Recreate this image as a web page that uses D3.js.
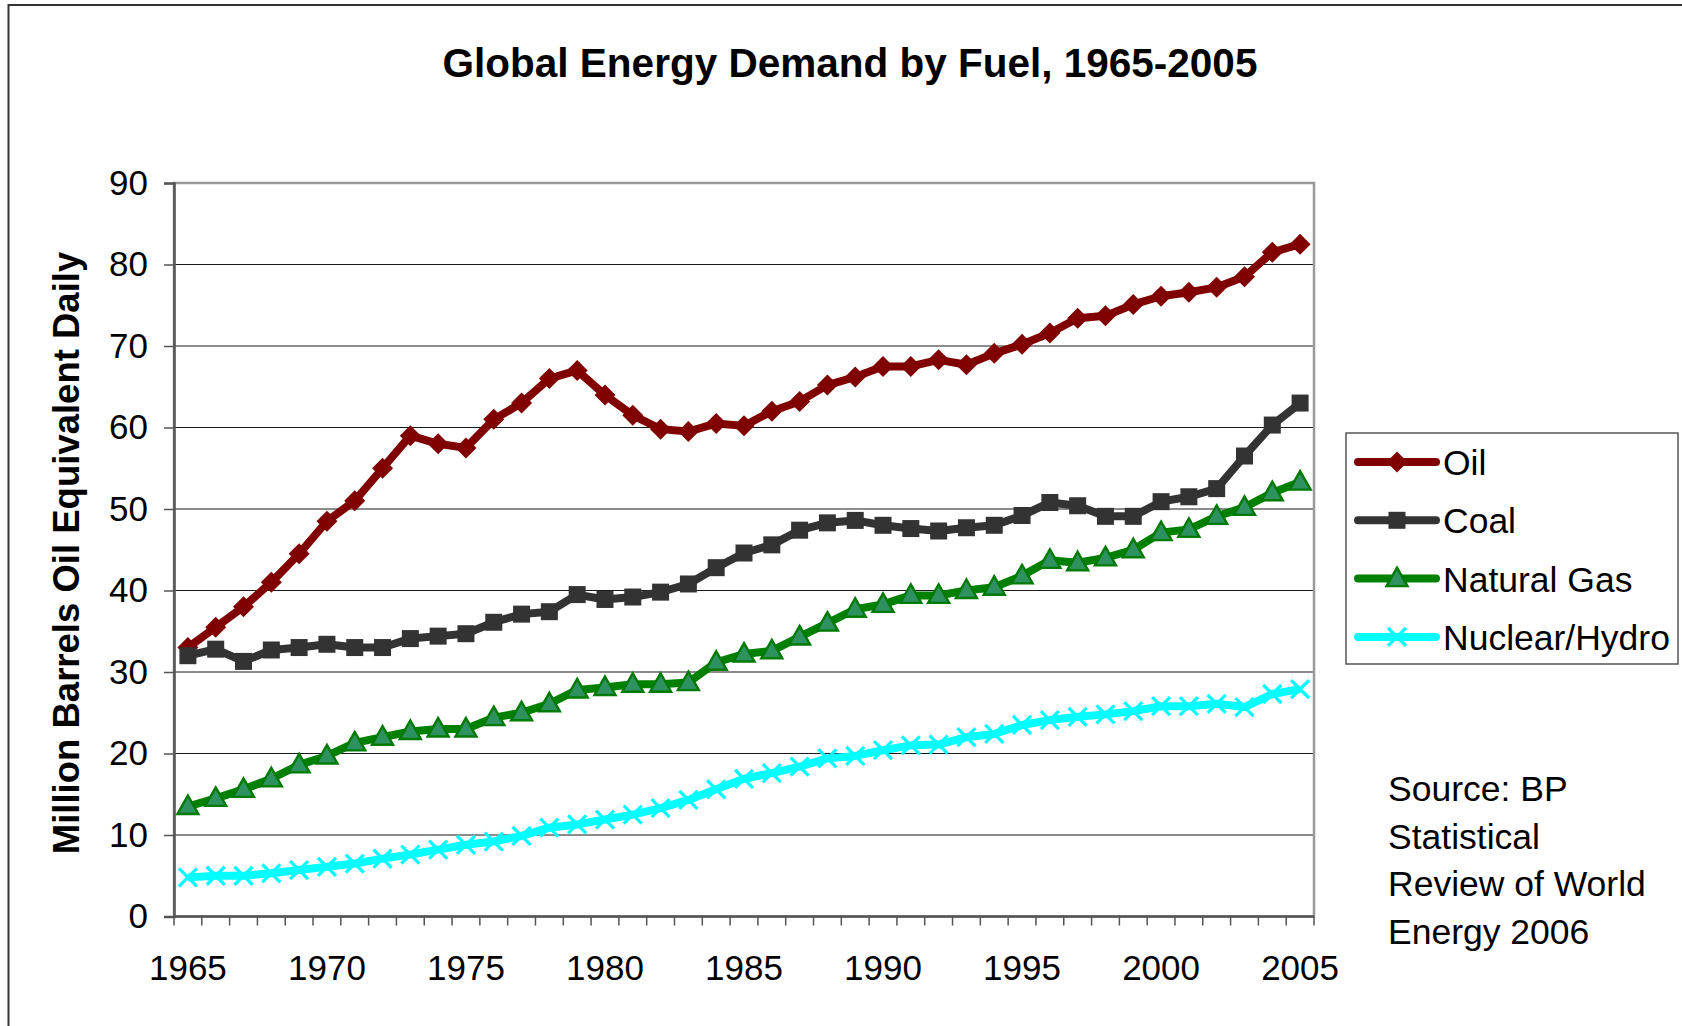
<!DOCTYPE html>
<html>
<head>
<meta charset="utf-8">
<script src="https://cdn.jsdelivr.net/npm/d3@7"></script>
<style>
  body { margin: 0; background: #fff; }
  svg { display: block; font-family: 'Liberation Sans', Arial, sans-serif; }
</style>
</head>
<body>
<div id="chart"></div>
<script>
// ----------------------------------------
// Data (million barrels oil equivalent daily)
// ----------------------------------------
const years = d3.range(1965, 2006)
const yTicks = [0, 10, 20, 30, 40, 50, 60, 70, 80, 90]
const xLabels = [1965, 1970, 1975, 1980, 1985, 1990, 1995, 2000, 2005]

const oil = [33, 35.5, 38, 41, 44.5, 48.5, 51, 55, 59, 58, 57.5, 61, 63, 66, 67,
  64, 61.5, 59.8, 59.5, 60.5, 60.2, 62, 63.2, 65.2, 66.2, 67.5, 67.5, 68.3, 67.7,
  69.1, 70.2, 71.6, 73.4, 73.7, 75.1, 76.1, 76.6, 77.2, 78.5, 81.5, 82.5]
const coal = [32, 32.8, 31.3, 32.7, 33, 33.4, 33, 33, 34.1, 34.4, 34.7, 36.1, 37.1,
  37.4, 39.5, 38.9, 39.2, 39.8, 40.8, 42.8, 44.6, 45.6, 47.4, 48.3, 48.6, 48, 47.6,
  47.3, 47.7, 48, 49.2, 50.8, 50.4, 49.1, 49.1, 50.9, 51.5, 52.5, 56.5, 60.3, 63]
const gas = [13.5, 14.5, 15.6, 16.9, 18.6, 19.7, 21.3, 22, 22.7, 23, 23, 24.4, 25,
  26.1, 27.8, 28.1, 28.5, 28.5, 28.7, 31.2, 32.2, 32.6, 34.3, 36, 37.7, 38.3, 39.4,
  39.4, 40, 40.4, 41.8, 43.7, 43.4, 44, 45, 47.1, 47.5, 49.1, 50.2, 52, 53.3]
const nuclear = [4.8, 5, 5, 5.3, 5.7, 6.1, 6.5, 7.1, 7.6, 8.2, 8.8, 9.2, 9.9, 10.9,
  11.3, 11.9, 12.5, 13.3, 14.3, 15.6, 16.9, 17.6, 18.4, 19.4, 19.7, 20.4, 21, 21.1,
  22, 22.4, 23.5, 24.1, 24.5, 24.8, 25.2, 25.8, 25.8, 26.1, 25.7, 27.3, 27.9]

const series = [
  { name: 'Oil', values: oil, color: '#800000', marker: 'diamond' },
  { name: 'Coal', values: coal, color: '#333333', marker: 'square' },
  { name: 'Natural Gas', values: gas, color: '#008000', marker: 'triangle' },
  { name: 'Nuclear/Hydro', values: nuclear, color: '#00ffff', marker: 'cross' }
]

const width = 1682
const height = 1026
const plotLeft = 174
const plotRight = 1314
const plotTop = 183
const plotBottom = 916.5

const svg = d3.select('#chart').append('svg')
  .attr('width', width)
  .attr('height', height)

// outer chart frame
svg.append('rect')
  .attr('x', 8.5).attr('y', 5)
  .attr('width', width + 20).attr('height', height + 20)
  .attr('fill', 'none')
  .attr('stroke', '#333')
  .attr('stroke-width', 2)

const x = d3.scaleBand().domain(years).range([plotLeft, plotRight])
const y = d3.scaleLinear().domain([0, 90]).range([plotBottom, plotTop])

// gridlines
svg.append('g')
  .selectAll('line')
  .data(yTicks.filter(d => d > 0 && d < 90))
  .enter().append('line')
    .attr('x1', plotLeft).attr('x2', plotRight)
    .attr('y1', d => y(d)).attr('y2', d => y(d))
    .attr('stroke', '#1a1a1a')
    .attr('stroke-width', 1.2)

// plot area border (top / right gray)
svg.append('rect')
  .attr('x', plotLeft).attr('y', y(90))
  .attr('width', plotRight - plotLeft)
  .attr('height', plotBottom - y(90))
  .attr('fill', 'none')
  .attr('stroke', '#999')
  .attr('stroke-width', 2.5)

// y axis
const yAxis = svg.append('g')
  .attr('transform', 'translate(' + plotLeft + ',0)')
  .call(d3.axisLeft(y).tickValues(yTicks).tickSize(10).tickPadding(16))
yAxis.select('.domain').attr('stroke', '#555').attr('stroke-width', 2.5)
yAxis.selectAll('.tick line').attr('stroke', '#555').attr('stroke-width', 1.5)
yAxis.selectAll('.tick text')
  .attr('fill', '#000')
  .style('font-size', '35px')
  .style('font-family', "'Liberation Sans', Arial, sans-serif")

// x axis: ticks at band boundaries, labels every 5 years
const xg = svg.append('g')
xg.append('line')
  .attr('x1', plotLeft).attr('x2', plotRight)
  .attr('y1', plotBottom).attr('y2', plotBottom)
  .attr('stroke', '#555').attr('stroke-width', 2.5)
xg.selectAll('line.tick')
  .data(years.concat([2006]))
  .enter().append('line')
    .attr('class', 'tick')
    .attr('x1', d => d === 2006 ? plotRight : x(d))
    .attr('x2', d => d === 2006 ? plotRight : x(d))
    .attr('y1', plotBottom).attr('y2', plotBottom + 9)
    .attr('stroke', '#555').attr('stroke-width', 1.5)
xg.selectAll('text')
  .data(xLabels)
  .enter().append('text')
    .attr('x', d => x(d) + x.bandwidth() / 2)
    .attr('y', 980)
    .attr('text-anchor', 'middle')
    .style('font-size', '35px')
    .text(d => d)

// markers
function markerPath (type) {
  if (type === 'diamond') return 'M0,-10.5L10.5,0L0,10.5L-10.5,0Z'
  if (type === 'square') return 'M-8.5,-8.5H8.5V8.5H-8.5Z'
  if (type === 'triangle') return 'M0,-11L10.5,7.5H-10.5Z'
  return 'M-9,-9L9,9M-9,9L9,-9'
}

function drawMarker (g, s) {
  const p = g.append('path').attr('d', markerPath(s.marker))
  if (s.marker === 'triangle') {
    p.attr('fill', '#2e9160').attr('stroke', '#007a00').attr('stroke-width', 2.4)
  } else if (s.marker === 'cross') {
    p.attr('fill', 'none').attr('stroke', s.color).attr('stroke-width', 3.2)
  } else {
    p.attr('fill', s.color)
  }
}

const line = d3.line()
  .x((d, i) => x(years[i]) + x.bandwidth() / 2)
  .y(d => y(d))

series.forEach(s => {
  svg.append('path')
    .datum(s.values)
    .attr('d', line)
    .attr('fill', 'none')
    .attr('stroke', s.color)
    .attr('stroke-width', 8)
    .attr('stroke-linejoin', 'round')

  s.values.forEach((v, i) => {
    const g = svg.append('g')
      .attr('transform', 'translate(' + (x(years[i]) + x.bandwidth() / 2) + ',' + y(v) + ')')
    drawMarker(g, s)
  })
})

// ----------------------------------------
// Titles
// ----------------------------------------
svg.append('text')
  .attr('x', 850)
  .attr('y', 77)
  .attr('text-anchor', 'middle')
  .style('font-size', '40.5px')
  .style('font-weight', 'bold')
  .text('Global Energy Demand by Fuel, 1965-2005')

svg.append('text')
  .attr('transform', 'translate(79,' + 553 + ') rotate(-90)')
  .attr('text-anchor', 'middle')
  .style('font-size', '36.5px')
  .style('font-weight', 'bold')
  .text('Million Barrels Oil Equivalent Daily')

// ----------------------------------------
// Legend
// ----------------------------------------
const legend = svg.append('g')
legend.append('rect')
  .attr('x', 1346).attr('y', 433)
  .attr('width', 332).attr('height', 231)
  .attr('fill', '#fff')
  .attr('stroke', '#555')
  .attr('stroke-width', 1.5)

series.forEach((s, i) => {
  const ly = 462 + i * 58.3
  legend.append('line')
    .attr('x1', 1358).attr('x2', 1436)
    .attr('y1', ly).attr('y2', ly)
    .attr('stroke', s.color)
    .attr('stroke-width', 8)
    .attr('stroke-linecap', 'round')
  const g = legend.append('g').attr('transform', 'translate(1397,' + ly + ')')
  drawMarker(g, s)
  legend.append('text')
    .attr('x', 1443)
    .attr('y', ly + 13)
    .style('font-size', '35.5px')
    .text(s.name)
})

// source note
const sourceLines = ['Source: BP', 'Statistical', 'Review of World', 'Energy 2006']
svg.append('g')
  .selectAll('text')
  .data(sourceLines)
  .enter().append('text')
    .attr('x', 1388)
    .attr('y', (d, i) => 801 + i * 47.5)
    .style('font-size', '35.5px')
    .text(d => d)
</script>
</body>
</html>
